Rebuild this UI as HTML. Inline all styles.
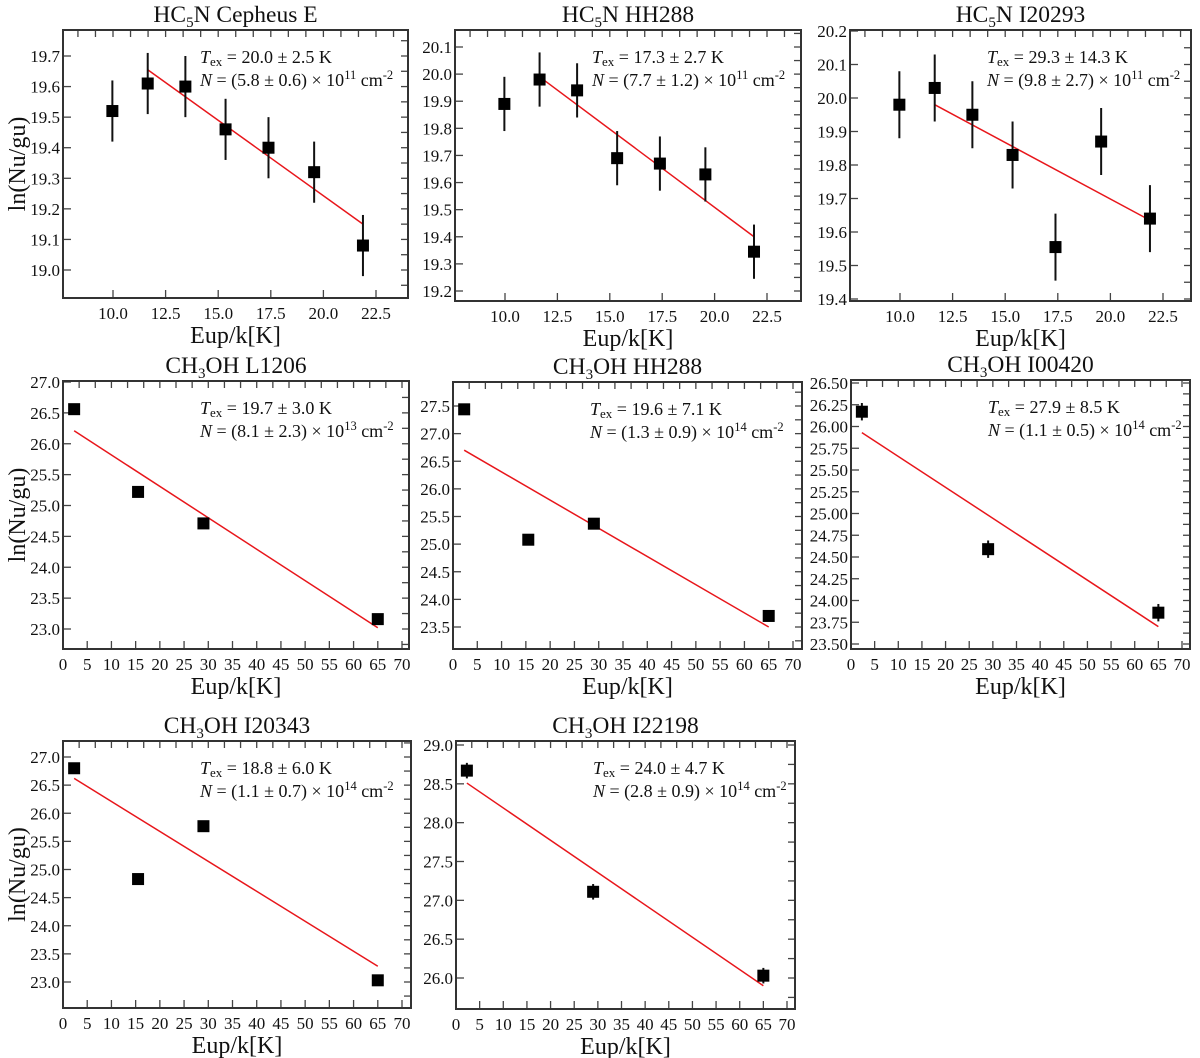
<!DOCTYPE html>
<html><head><meta charset="utf-8"><style>
body{margin:0;background:#fff}
svg{display:block;font-family:"Liberation Serif",serif}
</style></head><body>
<svg id="fig" width="1200" height="1058" viewBox="0 0 1200 1058" xmlns="http://www.w3.org/2000/svg"></svg>
<script>
// ---- data (one set of small arrays per panel) ----
const p1x=[9.97,11.65,13.44,15.35,17.39,19.56,21.88];
const p1y=[19.52,19.61,19.60,19.46,19.40,19.32,19.08];
const p1fit=[[11.65,19.655],[21.88,19.15]];
const p2x=[9.97,11.65,13.44,15.35,17.39,19.56,21.88];
const p2y=[19.89,19.98,19.94,19.69,19.67,19.63,19.345];
const p2fit=[[11.65,19.99],[21.88,19.40]];
const p3x=[9.97,11.65,13.44,15.35,17.39,19.56,21.88];
const p3y=[19.98,20.03,19.95,19.83,19.555,19.87,19.64];
const p3fit=[[11.65,19.98],[21.88,19.635]];
const p4x=[2.3,15.5,29,65];
const p4y=[26.56,25.22,24.71,23.16];
const p4fit=[[2.3,26.21],[65,23.02]];
const p5x=[2.3,15.5,29,65];
const p5y=[27.44,25.08,25.37,23.70];
const p5fit=[[2.3,26.70],[65,23.50]];
const p6x=[2.3,29,65];
const p6y=[26.17,24.59,23.86];
const p6fit=[[2.3,25.93],[65,23.70]];
const p7x=[2.3,15.5,29,65];
const p7y=[26.80,24.83,25.77,23.03];
const p7fit=[[2.3,26.62],[65,23.28]];
const p8x=[2.3,29,65];
const p8y=[28.67,27.11,26.03];
const p8fit=[[2.3,28.51],[65,25.90]];
const hcErr=0.1, chErr=0.08;
const hcXTicks=[10,12.5,15,17.5,20,22.5];
const chXTicks=[0,5,10,15,20,25,30,35,40,45,50,55,60,65,70];
const p1YTicks=[19.0,19.1,19.2,19.3,19.4,19.5,19.6,19.7];
const p2YTicks=[19.2,19.3,19.4,19.5,19.6,19.7,19.8,19.9,20.0,20.1];
const p3YTicks=[19.4,19.5,19.6,19.7,19.8,19.9,20.0,20.1,20.2];
const p4YTicks=[23.0,23.5,24.0,24.5,25.0,25.5,26.0,26.5,27.0];
const p5YTicks=[23.5,24.0,24.5,25.0,25.5,26.0,26.5,27.0,27.5];
const p6YTicks=[23.5,23.75,24.0,24.25,24.5,24.75,25.0,25.25,25.5,25.75,26.0,26.25,26.5];
const p7YTicks=[23.0,23.5,24.0,24.5,25.0,25.5,26.0,26.5,27.0];
const p8YTicks=[26.0,26.5,27.0,27.5,28.0,28.5,29.0];

const NS="http://www.w3.org/2000/svg";
const svg=document.getElementById('fig');
function mk(tag,attrs,parent){const e=document.createElementNS(NS,tag);for(const k in attrs)e.setAttribute(k,attrs[k]);(parent||svg).appendChild(e);return e;}

const panels=[
 {id:'hc5n-cepheus-e',mol:'HC',sub:'5',rest:'N Cepheus E',L:63,R:408,T:30,B:298,xr:[10,113,22.5,376],yr:[19.0,270,19.7,56],xs:p1x,ys:p1y,err:hcErr,fit:p1fit,xt:hcXTicks,yt:p1YTicks,dec:1,top:2.5/3,rt:0.05,tex:'20.0 ± 2.5 K',n:'(5.8 ± 0.6)',e:'11',ylab:true},
 {id:'hc5n-hh288',mol:'HC',sub:'5',rest:'N HH288',L:455,R:801,T:30,B:301,xr:[10,505,22.5,767],yr:[19.2,291,20.1,47],xs:p2x,ys:p2y,err:hcErr,fit:p2fit,xt:hcXTicks,yt:p2YTicks,dec:1,top:2.5/3,rt:0.05,tex:'17.3 ± 2.7 K',n:'(7.7 ± 1.2)',e:'11'},
 {id:'hc5n-i20293',mol:'HC',sub:'5',rest:'N I20293',L:850,R:1191,T:30,B:301,xr:[10,900,22.5,1163],yr:[19.4,299,20.2,31],xs:p3x,ys:p3y,err:hcErr,fit:p3fit,xt:hcXTicks,yt:p3YTicks,dec:1,top:2.5/3,rt:0.05,tex:'29.3 ± 14.3 K',n:'(9.8 ± 2.7)',e:'11'},
 {id:'ch3oh-l1206',mol:'CH',sub:'3',rest:'OH L1206',L:63,R:409,T:381,B:649,xr:[0,63,70,402],yr:[23.0,629,27.0,382],xs:p4x,ys:p4y,err:chErr,fit:p4fit,xt:chXTicks,yt:p4YTicks,dec:1,top:10/3,rt:0.25,tex:'19.7 ± 3.0 K',n:'(8.1 ± 2.3)',e:'13',ylab:true},
 {id:'ch3oh-hh288',mol:'CH',sub:'3',rest:'OH HH288',L:453,R:802,T:382,B:649,xr:[0,453,70,793],yr:[23.5,627,27.5,406],xs:p5x,ys:p5y,err:chErr,fit:p5fit,xt:chXTicks,yt:p5YTicks,dec:1,top:10/3,rt:0.25,tex:'19.6 ± 7.1 K',n:'(1.3 ± 0.9)',e:'14'},
 {id:'ch3oh-i00420',mol:'CH',sub:'3',rest:'OH I00420',L:851,R:1190,T:380,B:649,xr:[0,851,70,1182],yr:[23.5,644,26.5,383],xs:p6x,ys:p6y,err:0.1,fit:p6fit,xt:chXTicks,yt:p6YTicks,dec:2,top:10/3,rt:0.125,tex:'27.9 ± 8.5 K',n:'(1.1 ± 0.5)',e:'14'},
 {id:'ch3oh-i20343',mol:'CH',sub:'3',rest:'OH I20343',L:63,R:411,T:741,B:1008,xr:[0,63,70,402],yr:[23.0,982,27.0,757],xs:p7x,ys:p7y,err:chErr,fit:p7fit,xt:chXTicks,yt:p7YTicks,dec:1,top:10/3,rt:0.25,tex:'18.8 ± 6.0 K',n:'(1.1 ± 0.7)',e:'14',ylab:true},
 {id:'ch3oh-i22198',mol:'CH',sub:'3',rest:'OH I22198',L:456,R:795,T:741,B:1009,xr:[0,456,70,787],yr:[26.0,978,29.0,745],xs:p8x,ys:p8y,err:0.1,fit:p8fit,xt:chXTicks,yt:p8YTicks,dec:1,top:10/3,rt:0.25,tex:'24.0 ± 4.7 K',n:'(2.8 ± 0.9)',e:'14'}
];

panels.forEach(p=>{
  const g=mk('g',{});
  
  
  const X=v=>p.xr[1]+(v-p.xr[0])*(p.xr[3]-p.xr[1])/(p.xr[2]-p.xr[0]);
  const Y=v=>p.yr[1]+(v-p.yr[0])*(p.yr[3]-p.yr[1])/(p.yr[2]-p.yr[0]);
  const Xi=px=>p.xr[0]+(px-p.xr[1])*(p.xr[2]-p.xr[0])/(p.xr[3]-p.xr[1]);
  const Yi=py=>p.yr[0]+(py-p.yr[1])*(p.yr[2]-p.yr[0])/(p.yr[3]-p.yr[1]);
  const cx=(p.L+p.R)/2;
  const t=mk('text',{x:cx,y:p.T-8,'text-anchor':'middle','font-size':23.5,fill:'#111'},g);
  
  
  t.innerHTML=p.mol+'<tspan font-size="15" dy="5">'+p.sub+'</tspan><tspan dy="-5">'+p.rest+'</tspan>';
  const tk=mk('g',{stroke:'#444','stroke-width':1.3},g);
  
  
  p.xt.forEach(v=>{const x=X(v);if(x<p.L-1||x>p.R+1)return;
    mk('line',{x1:x,y1:p.B,x2:x,y2:p.B-8},tk);
    const l=mk('text',{x:x,y:p.B+21,'text-anchor':'middle','font-size':17,fill:'#111',stroke:'none'},g);
    
    
    l.textContent=(p.xt[1]-p.xt[0]<5)?v.toFixed(1):String(v);
  });
  for(let v=Math.ceil(Xi(p.L)/p.top)*p.top; X(v)<=p.R; v+=p.top){const x=X(v); if(x>p.L+1&&x<p.R-1) mk('line',{x1:x,y1:p.T,x2:x,y2:p.T+7},tk);}
  p.yt.forEach(v=>{const y=Y(v);
    mk('line',{x1:p.L,y1:y,x2:p.L+8,y2:y},tk);
    const l=mk('text',{x:p.L-3,y:y+6,'text-anchor':'end','font-size':17,fill:'#111',stroke:'none'},g);
    
    
    l.textContent=v.toFixed(p.dec);
  });
  for(let v=Math.ceil(Yi(p.B)/p.rt)*p.rt; Y(v)>=p.T; v+=p.rt){const y=Y(v); if(y<p.B-1&&y>p.T+1) mk('line',{x1:p.R,y1:y,x2:p.R-7,y2:y},tk);}
  const bx=mk('rect',{x:p.L,y:p.T,width:p.R-p.L,height:p.B-p.T,fill:'none',stroke:'#333','stroke-width':2},g);
  
  
  const f=mk('line',{x1:X(p.fit[0][0]),y1:Y(p.fit[0][1]),x2:X(p.fit[1][0]),y2:Y(p.fit[1][1]),stroke:'#e8161b','stroke-width':1.5},g);
  
  
  p.xs.forEach((xv,i)=>{const x=X(xv),y=Y(p.ys[i]);
    const eb=mk('line',{x1:x,y1:Y(p.ys[i]+p.err),x2:x,y2:Y(p.ys[i]-p.err),stroke:'#111','stroke-width':2},g);
    
    
    const r=mk('rect',{x:x-6,y:y-6,width:12,height:12,fill:'#000'},g);
    
    
  });
  const ax=p.L+137;
  const a1=mk('text',{x:ax,y:p.T+33,'font-size':18,fill:'#111'},g);
  
  
  a1.innerHTML='<tspan font-style="italic">T</tspan><tspan font-size="13" dy="3">ex</tspan><tspan dy="-3"> = '+p.tex+'</tspan>';
  const a2=mk('text',{x:ax,y:p.T+56,'font-size':18,fill:'#111'},g);
  
  
  a2.innerHTML='<tspan font-style="italic">N</tspan> = '+p.n+' × 10<tspan font-size="12.5" dy="-7">'+p.e+'</tspan><tspan dy="7"> cm</tspan><tspan font-size="12.5" dy="-7">-2</tspan>';
  const xl=mk('text',{x:cx,y:p.B+45,'text-anchor':'middle','font-size':24,fill:'#111'},g);
  
  
  xl.textContent='Eup/k[K]';
  if(p.ylab){
    const yc=(p.T+p.B)/2;
    const yl=mk('text',{x:25,y:yc,'text-anchor':'middle','font-size':24,fill:'#111',transform:'rotate(-90 25 '+yc+')'},g);
    
    
    yl.textContent='ln(Nu/gu)';
  }
});
</script>
</body></html>
